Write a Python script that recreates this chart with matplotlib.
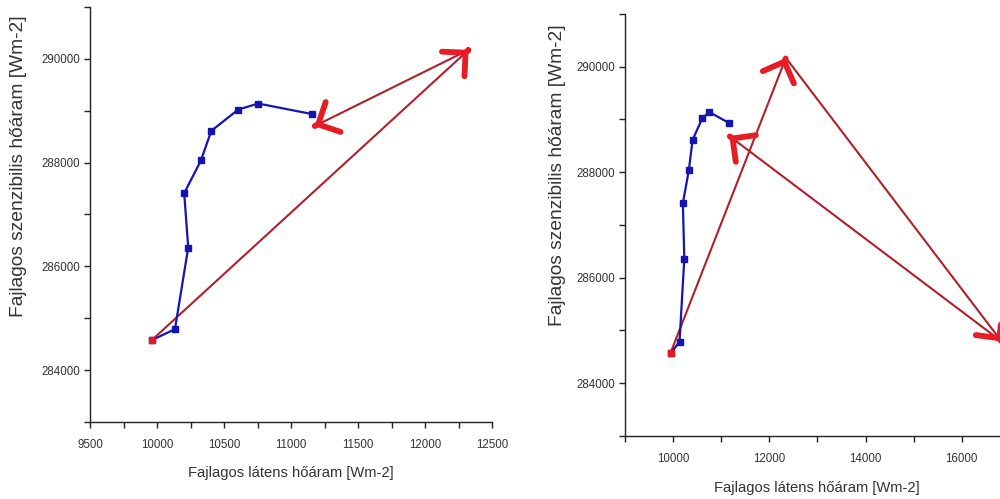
import matplotlib
matplotlib.use("Agg")
import matplotlib.pyplot as plt
from matplotlib.ticker import MultipleLocator, FuncFormatter

# Data (same series in both panels)
latent = [9960, 10134, 10233, 10203, 10328, 10405, 10606, 10755, 11155]
sensible = [284575, 284790, 286360, 287410, 288040, 288610, 289020, 289137, 288935]

# Arrow annotations: (tail_x, tail_y, tip_x, tip_y)
arrows_left = [
    (9960, 284575, 12325, 290170),
    (12325, 290170, 11175, 288700),
]
arrows_right = [
    (9945, 284570, 12345, 290165),
    (12345, 290165, 16830, 284790),
    (16830, 284790, 11168, 288685),
]

xlabel = "Fajlagos látens hőáram [Wm-2]"
ylabel = "Fajlagos szenzibilis hőáram [Wm-2]"

plt.rcParams['font.family'] = ['Liberation Sans', 'DejaVu Sans']

fig = plt.figure(figsize=(10, 4.99), dpi=100)

ax1 = fig.add_axes([0.090, 0.1543, 0.402, 0.832])
ax2 = fig.add_axes([0.625, 0.1263, 0.3848, 0.846])

line_col = '#1414b0'
shaft_col = '#b0202a'
head_col = '#e81c24'
text_col = '#333333'

def setup(ax, xlim, xmaj, xmin):
    ax.set_xlim(*xlim)
    ax.set_ylim(283000, 291000)
    ax.xaxis.set_major_locator(MultipleLocator(xmaj))
    ax.xaxis.set_minor_locator(MultipleLocator(xmin))
    ax.yaxis.set_major_locator(MultipleLocator(2000))
    ax.yaxis.set_minor_locator(MultipleLocator(1000))
    for s in ['top', 'right']:
        ax.spines[s].set_visible(False)
    for s in ['left', 'bottom']:
        ax.spines[s].set_linewidth(1.0)
        ax.spines[s].set_color('#222222')
    ax.tick_params(which='both', direction='out', length=4, width=1, colors='#222222',
                   labelsize=8.3, labelcolor=text_col, pad=8)
    ax.tick_params(axis='y', which='major', pad=3)
    fmt = FuncFormatter(lambda v, p: f"{int(v)}")
    ax.yaxis.set_major_formatter(fmt)
    ax.xaxis.set_major_formatter(fmt)
    ax.patch.set_alpha(0)

def draw(ax, arrows):
    ax.plot(latent, sensible, '-s', color=line_col, lw=1.6, ms=4.5, zorder=3)
    for (x0, y0, x1, y1) in arrows:
        ax.plot([x0, x1], [y0, y1], color=shaft_col, lw=1.5, zorder=2, solid_capstyle='round')
        ex = x1 - (x1 - x0) * 0.002
        ey = y1 - (y1 - y0) * 0.002
        ax.annotate('', xy=(x1, y1), xytext=(ex, ey),
                    arrowprops=dict(arrowstyle='->,head_length=0.6,head_width=0.6',
                                    color=head_col, lw=4.2, shrinkA=0, shrinkB=0,
                                    mutation_scale=20),
                    annotation_clip=False, zorder=4)
    ax.plot([latent[0]], [sensible[0]], 's', color='#e01a22', ms=5, zorder=5)

setup(ax1, (9500, 12500), 500, 250)
setup(ax2, (9000, 17000), 2000, 1000)
draw(ax1, arrows_left)
draw(ax2, arrows_right)

fig.text(0.0185, 0.666, ylabel, rotation=90, ha='center', va='center', fontsize=13.8, color=text_col)
fig.text(0.557, 0.649, ylabel, rotation=90, ha='center', va='center', fontsize=13.8, color=text_col)
fig.text(0.291, 0.052, xlabel, ha='center', va='center', fontsize=10.6, color=text_col)
fig.text(0.817, 0.022, xlabel, ha='center', va='center', fontsize=10.6, color=text_col)

fig.savefig('out.png', dpi=100)
